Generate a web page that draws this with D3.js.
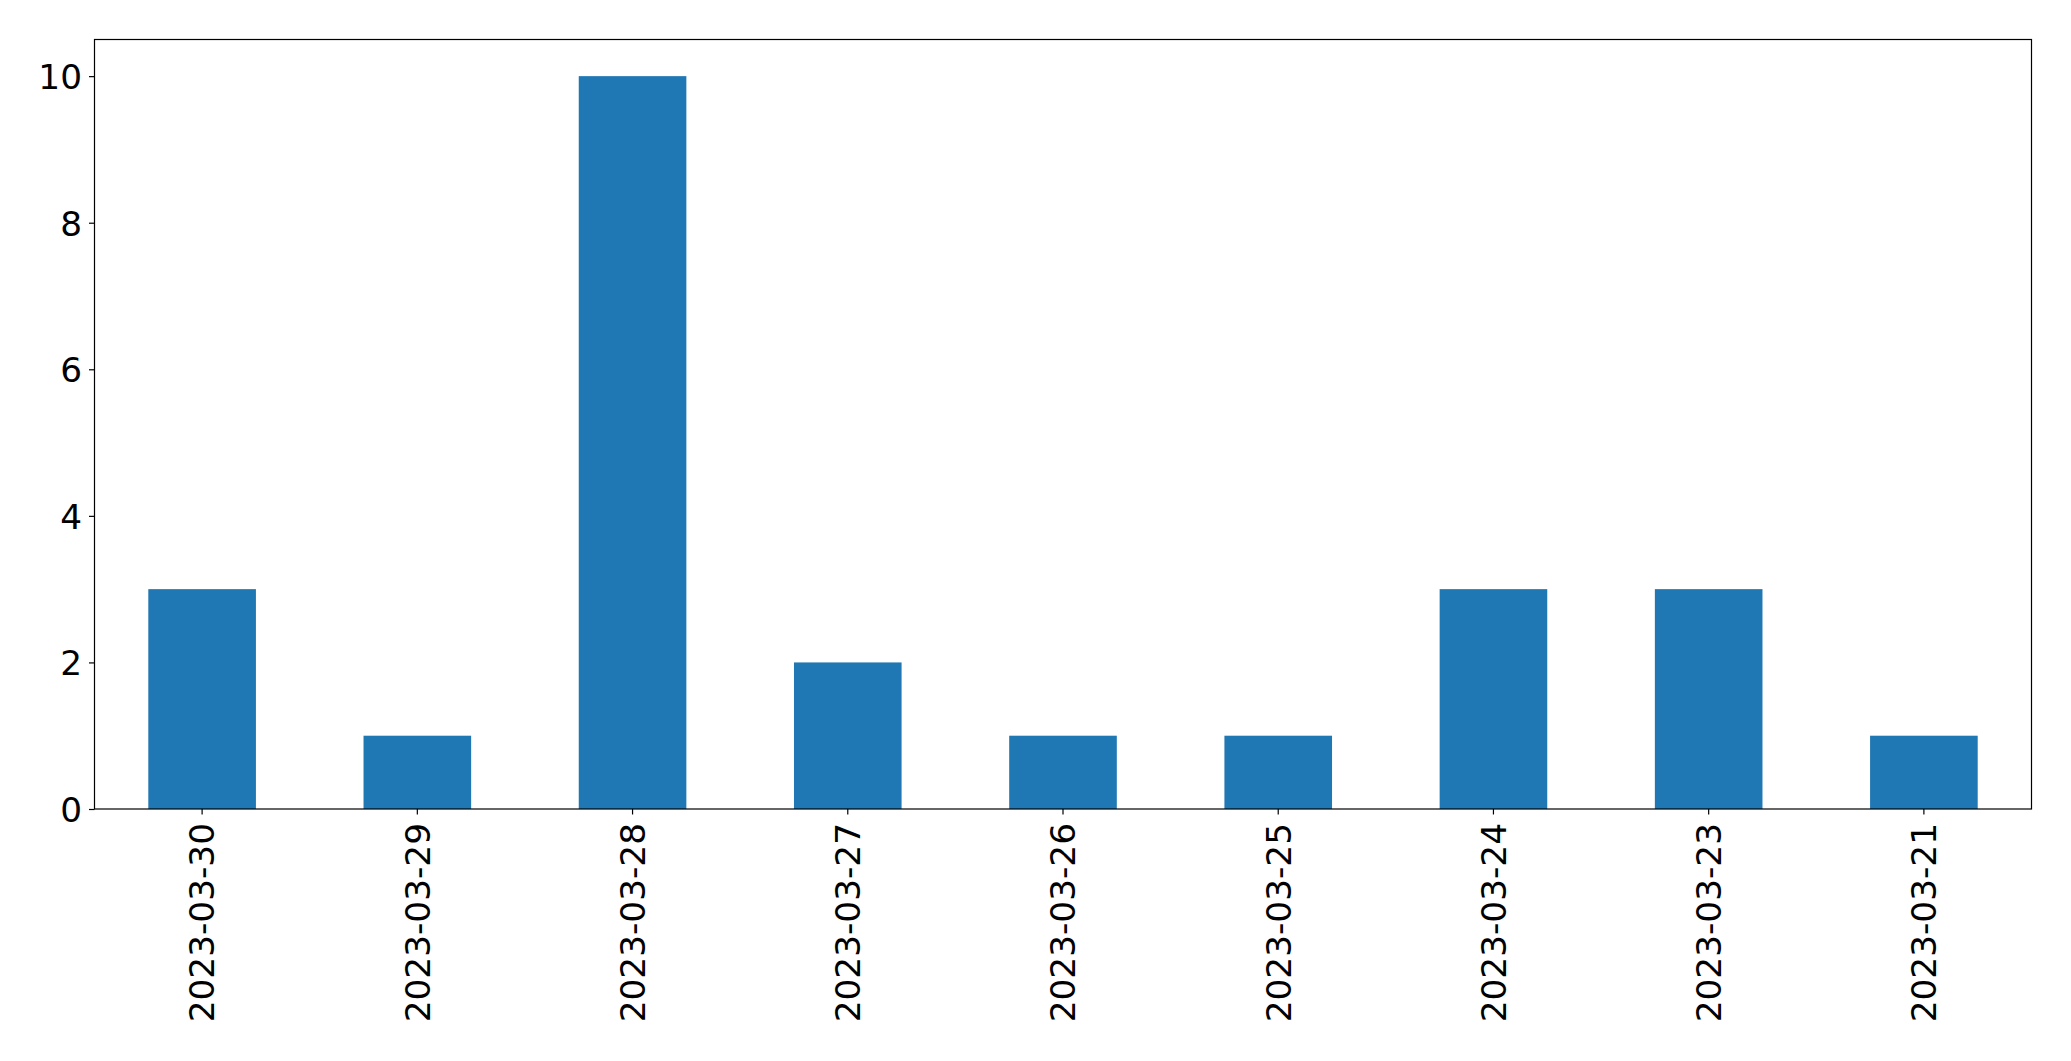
<!DOCTYPE html>
<html><head><meta charset="utf-8">
<script src="https://cdn.jsdelivr.net/npm/d3@7"></script>
<style>html,body{margin:0;padding:0;background:#fff;} svg{display:block;}</style>
</head><body>
<svg id="chart" width="2071" height="1061"></svg>
<script>
const categories = ["2023-03-30","2023-03-29","2023-03-28","2023-03-27","2023-03-26","2023-03-25","2023-03-24","2023-03-23","2023-03-21"];
const values = [3,1,10,2,1,1,3,3,1];
const yTicks = [0,2,4,6,8,10];

const svg = d3.select("#chart");
const m = {left:94.5, top:39.5, right:2031.5, bottom:809};
const x = d3.scaleBand().domain(categories).range([m.left, m.right]).paddingInner(0.5).paddingOuter(0.25);
const y = d3.scaleLinear().domain([0, 10.5]).range([m.bottom, m.top]);
const font = "DejaVu Sans, sans-serif";
const fs = 34.3;

svg.append("g").selectAll("rect").data(values).join("rect")
  .attr("x",(d,i)=>x(categories[i]))
  .attr("width",x.bandwidth())
  .attr("y",d=>y(d))
  .attr("height",d=>y(0)-y(d))
  .attr("fill","#1f77b4");

// frame
svg.append("rect").attr("x",m.left).attr("y",m.top).attr("width",m.right-m.left).attr("height",m.bottom-m.top)
  .attr("fill","none").attr("stroke","#000").attr("stroke-width",1.2);

const yAxis = d3.axisLeft(y).tickValues(yTicks).tickSize(5.5).tickPadding(7).tickFormat(d3.format("d"));
const gy = svg.append("g").attr("transform",`translate(${m.left},0)`).call(yAxis);
gy.select(".domain").remove();
gy.selectAll("line").attr("stroke","#000").attr("stroke-width",1.2);
gy.selectAll("text").attr("font-family",font).attr("font-size",fs).attr("fill","#000").attr("dy","0.36em");

const xAxis = d3.axisBottom(x).tickSize(5.5).tickPadding(0);
const gx = svg.append("g").attr("transform",`translate(0,${m.bottom})`).call(xAxis);
gx.select(".domain").remove();
gx.selectAll("line").attr("stroke","#000").attr("stroke-width",1.2);
gx.selectAll("text").attr("font-family",font).attr("font-size",fs).attr("fill","#000")
  .attr("transform","rotate(-90)")
  .attr("text-anchor","end")
  .attr("x",-14).attr("y",0).attr("dy","0.36em");
</script>
</body></html>
